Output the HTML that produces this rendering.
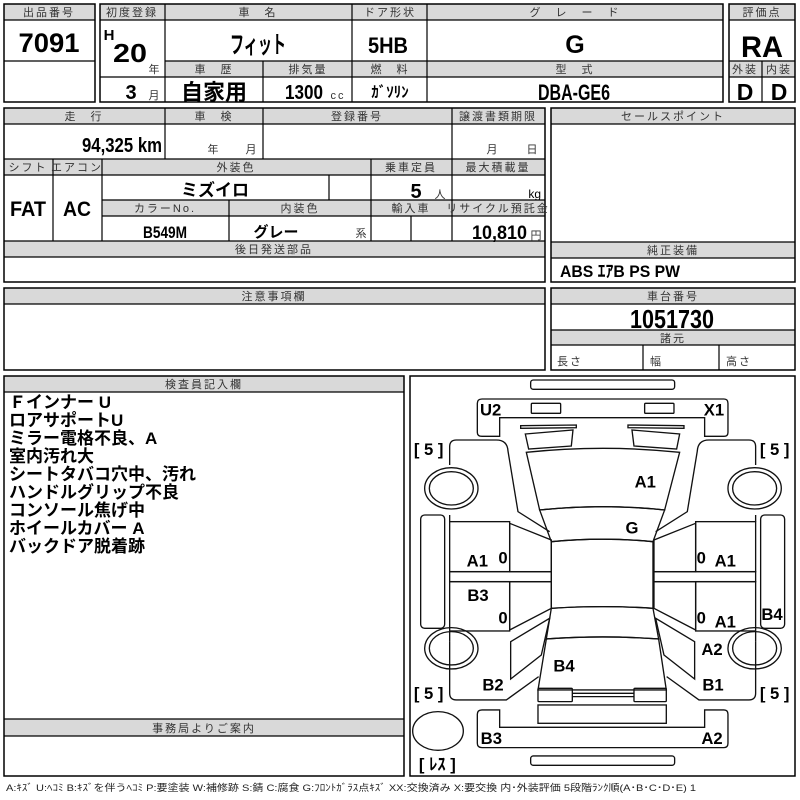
<!DOCTYPE html>
<html><head><meta charset="utf-8"><style>
html,body{margin:0;padding:0;background:#fff;width:800px;height:800px;overflow:hidden}
svg{display:block}
text{font-family:"Liberation Sans","Noto Sans CJK JP",sans-serif}
.h{font-size:11px;fill:#333;letter-spacing:2px}
.v{font-weight:bold;fill:#000}
.hf{fill:#d9d9d9}
.b{fill:none;stroke:#000;stroke-width:1.5}
.l{stroke:#000;stroke-width:1.2}
.d{fill:none;stroke:#111;stroke-width:4}
.dl{font-weight:bold;font-size:50px;fill:#000}
.n{font-weight:bold;font-size:17px;fill:#000}
</style></head><body>
<svg width="800" height="800" viewBox="0 0 800 800" xmlns="http://www.w3.org/2000/svg">
<g text-anchor="middle">
<rect class="hf" x="4" y="4" width="91" height="16"/>
<rect class="hf" x="100" y="4" width="623" height="16"/>
<rect class="hf" x="165" y="61" width="558" height="16"/>
<rect class="hf" x="729" y="4" width="66" height="16"/>
<rect class="hf" x="729" y="61" width="66" height="16"/>
<rect class="hf" x="4" y="108" width="541" height="16"/>
<rect class="hf" x="4" y="159" width="541" height="16"/>
<rect class="hf" x="102" y="200" width="443" height="16"/>
<rect class="hf" x="4" y="241" width="541" height="16"/>
<rect class="hf" x="551" y="108" width="244" height="16"/>
<rect class="hf" x="551" y="242" width="244" height="16"/>
<rect class="hf" x="4" y="288" width="541" height="16"/>
<rect class="hf" x="551" y="288" width="244" height="16"/>
<rect class="hf" x="551" y="330" width="244" height="15"/>
<rect class="hf" x="4" y="376" width="400" height="16"/>
<rect class="hf" x="4" y="719" width="400" height="17"/>

<rect class="b" x="4" y="4" width="91" height="98"/>
<line class="l" x1="4" y1="20" x2="95" y2="20"/><line class="l" x1="4" y1="61" x2="95" y2="61"/>
<text class="h" x="49" y="16">出品番号</text>
<text class="v" x="49" y="52" font-size="27" textLength="61" lengthAdjust="spacingAndGlyphs">7091</text>

<rect class="b" x="100" y="4" width="623" height="98"/>
<line class="l" x1="100" y1="20" x2="723" y2="20"/>
<line class="l" x1="165" y1="61" x2="723" y2="61"/>
<line class="l" x1="100" y1="77" x2="723" y2="77"/>
<line class="l" x1="165" y1="4" x2="165" y2="102"/>
<line class="l" x1="352" y1="4" x2="352" y2="102"/>
<line class="l" x1="427" y1="4" x2="427" y2="102"/>
<line class="l" x1="263" y1="61" x2="263" y2="102"/>
<text class="h" x="132" y="16" letter-spacing="0">初度登録</text>
<text class="h" x="258" y="16">車　名</text>
<text class="h" x="390" y="16">ドア形状</text>
<text class="h" x="575" y="16">グ　レ　ー　ド</text>
<text class="v" x="109" y="40" font-size="15">H</text>
<text class="v" x="130" y="62" font-size="26" textLength="34" lengthAdjust="spacingAndGlyphs">20</text>
<text class="h" x="155" y="73">年</text>
<text class="v" x="131" y="99" font-size="20">3</text>
<text class="h" x="155" y="99">月</text>
<text class="v" x="258" y="53" font-size="24" textLength="56" lengthAdjust="spacingAndGlyphs">フィット</text>
<text class="v" x="388" y="53" font-size="22" textLength="40" lengthAdjust="spacingAndGlyphs">5HB</text>
<text class="v" x="575" y="53" font-size="25">G</text>
<text class="h" x="214" y="73">車　歴</text>
<text class="h" x="308" y="73">排気量</text>
<text class="h" x="390" y="73">燃　料</text>
<text class="h" x="575" y="73">型　式</text>
<text class="v" x="214" y="100" font-size="22">自家用</text>
<text class="v" x="304" y="99" font-size="20" textLength="38" lengthAdjust="spacingAndGlyphs">1300</text>
<text class="h" x="338" y="99" letter-spacing="0">cc</text>
<text class="v" x="390" y="97" font-size="15">ｶﾞｿﾘﾝ</text>
<text class="v" x="574" y="100" font-size="22" textLength="72" lengthAdjust="spacingAndGlyphs">DBA-GE6</text>

<rect class="b" x="729" y="4" width="66" height="98"/>
<line class="l" x1="729" y1="20" x2="795" y2="20"/>
<line class="l" x1="729" y1="61" x2="795" y2="61"/>
<line class="l" x1="729" y1="77" x2="795" y2="77"/>
<line class="l" x1="762" y1="61" x2="762" y2="102"/>
<text class="h" x="762" y="16" letter-spacing="0">評価点</text>
<text class="v" x="762" y="57" font-size="30" textLength="42" lengthAdjust="spacingAndGlyphs">RA</text>
<text class="h" x="745" y="73" letter-spacing="0">外装</text>
<text class="h" x="779" y="73" letter-spacing="0">内装</text>
<text class="v" x="745" y="100" font-size="23">D</text>
<text class="v" x="779" y="100" font-size="23">D</text>

<rect class="b" x="4" y="108" width="541" height="174"/>
<line class="l" x1="4" y1="124" x2="545" y2="124"/>
<line class="l" x1="4" y1="159" x2="545" y2="159"/>
<line class="l" x1="4" y1="175" x2="545" y2="175"/>
<line class="l" x1="102" y1="200" x2="545" y2="200"/>
<line class="l" x1="102" y1="216" x2="545" y2="216"/>
<line class="l" x1="4" y1="241" x2="545" y2="241"/>
<line class="l" x1="4" y1="257" x2="545" y2="257"/>
<line class="l" x1="165" y1="108" x2="165" y2="159"/>
<line class="l" x1="263" y1="108" x2="263" y2="159"/>
<line class="l" x1="452" y1="108" x2="452" y2="241"/>
<line class="l" x1="53" y1="159" x2="53" y2="241"/>
<line class="l" x1="102" y1="159" x2="102" y2="241"/>
<line class="l" x1="371" y1="159" x2="371" y2="241"/>
<line class="l" x1="329" y1="175" x2="329" y2="200"/>
<line class="l" x1="229" y1="200" x2="229" y2="241"/>
<line class="l" x1="411" y1="216" x2="411" y2="241"/>
<text class="h" x="84" y="120">走　行</text>
<text class="h" x="214" y="120">車　検</text>
<text class="h" x="357" y="120">登録番号</text>
<text class="h" x="498" y="120" letter-spacing="0">譲渡書類期限</text>
<text class="v" x="82" y="152" font-size="20" text-anchor="start" textLength="80" lengthAdjust="spacingAndGlyphs">94,325 km</text>
<text class="h" x="214" y="153">年</text>
<text class="h" x="252" y="153">月</text>
<text class="h" x="493" y="153">月</text>
<text class="h" x="533" y="153">日</text>
<text class="h" x="28" y="171" letter-spacing="0">シフト</text>
<text class="h" x="77" y="171" letter-spacing="0">エアコン</text>
<text class="h" x="236" y="171">外装色</text>
<text class="h" x="411" y="171" letter-spacing="0">乗車定員</text>
<text class="h" x="498" y="171" letter-spacing="0">最大積載量</text>
<text class="v" x="28" y="216" font-size="21" textLength="36" lengthAdjust="spacingAndGlyphs">FAT</text>
<text class="v" x="77" y="216" font-size="21" textLength="28" lengthAdjust="spacingAndGlyphs">AC</text>
<text class="v" x="215" y="196" font-size="17">ミズイロ</text>
<text class="v" x="416" y="198" font-size="20">5</text>
<text class="h" x="441" y="198">人</text>
<text x="541" y="198" font-size="12" text-anchor="end">kg</text>
<text class="h" x="165" y="212">カラーNo.</text>
<text class="h" x="300" y="212">内装色</text>
<text class="h" x="411" y="212">輸入車</text>
<text class="h" x="498" y="212" letter-spacing="0">リサイクル預託金</text>
<text class="v" x="165" y="238" font-size="17" textLength="44" lengthAdjust="spacingAndGlyphs">B549M</text>
<text class="v" x="276" y="237" font-size="15">グレー</text>
<text class="h" x="362" y="237">系</text>
<text class="v" x="527" y="239" font-size="19" text-anchor="end" textLength="55" lengthAdjust="spacingAndGlyphs">10,810</text>
<text class="h" x="537" y="239" letter-spacing="0">円</text>
<text class="h" x="274" y="253">後日発送部品</text>

<rect class="b" x="551" y="108" width="244" height="174"/>
<line class="l" x1="551" y1="124" x2="795" y2="124"/>
<line class="l" x1="551" y1="242" x2="795" y2="242"/>
<line class="l" x1="551" y1="258" x2="795" y2="258"/>
<text class="h" x="673" y="120" letter-spacing="6">セールスポイント</text>
<text class="h" x="673" y="254" letter-spacing="5">純正装備</text>
<text class="v" x="560" y="277" font-size="17" text-anchor="start" textLength="120" lengthAdjust="spacingAndGlyphs">ABS ｴｱB PS PW</text>

<rect class="b" x="4" y="288" width="541" height="82"/>
<line class="l" x1="4" y1="304" x2="545" y2="304"/>
<text class="h" x="274" y="300">注意事項欄</text>

<rect class="b" x="551" y="288" width="244" height="82"/>
<line class="l" x1="551" y1="304" x2="795" y2="304"/>
<line class="l" x1="551" y1="330" x2="795" y2="330"/>
<line class="l" x1="551" y1="345" x2="795" y2="345"/>
<line class="l" x1="643" y1="345" x2="643" y2="370"/>
<line class="l" x1="719" y1="345" x2="719" y2="370"/>
<text class="h" x="673" y="300" letter-spacing="5">車台番号</text>
<text class="v" x="672" y="328" font-size="26" textLength="84" lengthAdjust="spacingAndGlyphs">1051730</text>
<text class="h" x="673" y="342">諸元</text>
<text class="h" x="557" y="365" text-anchor="start">長さ</text>
<text class="h" x="650" y="365" text-anchor="start">幅</text>
<text class="h" x="726" y="365" text-anchor="start">高さ</text>

<rect class="b" x="4" y="376" width="400" height="400"/>
<line class="l" x1="4" y1="392" x2="404" y2="392"/>
<line class="l" x1="4" y1="719" x2="404" y2="719"/>
<line class="l" x1="4" y1="736" x2="404" y2="736"/>
<text class="h" x="204" y="388" letter-spacing="5">検査員記入欄</text>
<text class="h" x="204" y="732" letter-spacing="6">事務局よりご案内</text>
</g>
<text class="n" x="9" y="408">Ｆインナー U</text>
<text class="n" x="9" y="426">ロアサポートU</text>
<text class="n" x="9" y="444">ミラー電格不良、A</text>
<text class="n" x="9" y="462">室内汚れ大</text>
<text class="n" x="9" y="480">シートタバコ穴中、汚れ</text>
<text class="n" x="9" y="498">ハンドルグリップ不良</text>
<text class="n" x="9" y="516">コンソール焦げ中</text>
<text class="n" x="9" y="534">ホイールカバー A</text>
<text class="n" x="9" y="552">バックドア脱着跡</text>

<rect class="b" x="410" y="376" width="385" height="400"/>
<g transform="translate(408,375) scale(0.3333)" text-anchor="middle">
<rect class="d" x="368" y="15" width="432" height="28" rx="8"/>
<rect class="d" x="368" y="1143" width="432" height="28" rx="8"/>
<path class="d" d="M208,85 Q208,72 222,72 L948,72 Q960,72 960,85 L960,172 Q960,184 948,184 L890,184 L890,128 L275,128 L275,184 L222,184 Q208,184 208,172 Z"/>
<path class="d" d="M208,1018 Q208,1005 222,1005 L275,1005 L275,1057 L890,1057 L890,1005 L948,1005 Q960,1005 960,1018 L960,1105 Q960,1118 948,1118 L222,1118 Q208,1118 208,1105 Z"/>
<rect class="d" x="370" y="85" width="88" height="30" rx="3"/>
<rect class="d" x="710" y="85" width="88" height="30" rx="3"/>
<path class="d" d="M338,160 L338,152 L505,150 L505,158 Z M660,150 L828,152 L828,160 L660,158 Z"/>
<path class="d" d="M352,177 L495,165 L490,213 L362,222 Z M672,165 L815,177 L806,222 L678,213 Z"/>
<path class="d" d="M355,232 Q585,208 815,232 L770,405 Q585,385 395,405 Z"/>
<path class="d" d="M395,405 Q585,385 770,405 L735,500 Q585,485 430,500 Z"/>
<path class="d" d="M430,500 Q585,485 735,500 L735,700 Q585,690 430,700 Z"/>
<path class="d" d="M430,700 Q585,690 735,700 L752,792 Q585,780 415,792 Z"/>
<path class="d" d="M415,792 Q585,780 752,792 L775,945 L390,945 Z"/>
<rect class="d" x="390" y="940" width="103" height="40" rx="3"/>
<rect class="d" x="678" y="940" width="97" height="40" rx="3"/>
<path class="d" d="M493,955 L678,955 M493,965 L678,965"/>
<rect class="d" x="390" y="990" width="385" height="55"/>
<path class="d" d="M125,270 L125,215 Q125,195 145,195 L265,195 Q298,195 300,228 L330,410 L425,470"/>
<path class="d" d="M125,420 L125,440 M125,770 L125,800"/>
<rect class="d" x="125" y="440" width="180" height="150"/>
<path class="d" d="M305,445 L430,495 L430,590 L305,590 Z"/>
<rect class="d" x="125" y="590" width="305" height="30"/>
<rect class="d" x="125" y="620" width="180" height="148"/>
<path class="d" d="M305,620 L430,620 L430,700 L305,765 Z"/>
<path class="d" d="M308,800 L425,730 L400,840 L308,912 Z"/>
<path class="d" d="M125,800 L125,955 Q125,975 145,975 L295,975 L392,905"/>
<rect class="d" x="38" y="420" width="72" height="340" rx="12"/>
<ellipse class="d" cx="130" cy="340" rx="80" ry="62"/><ellipse class="d" cx="130" cy="340" rx="66" ry="50"/>
<ellipse class="d" cx="130" cy="820" rx="80" ry="62"/><ellipse class="d" cx="130" cy="820" rx="66" ry="50"/>
<path class="d" d="M1043,270 L1043,215 Q1043,195 1023,195 L903,195 Q870,195 868,228 L838,410 L743,470"/>
<path class="d" d="M1043,420 L1043,440 M1043,770 L1043,800"/>
<rect class="d" x="863" y="440" width="180" height="150"/>
<path class="d" d="M863,445 L738,495 L738,590 L863,590 Z"/>
<rect class="d" x="738" y="590" width="305" height="30"/>
<rect class="d" x="863" y="620" width="180" height="148"/>
<path class="d" d="M863,620 L738,620 L738,700 L863,765 Z"/>
<path class="d" d="M860,800 L743,730 L768,840 L860,912 Z"/>
<path class="d" d="M1043,800 L1043,955 Q1043,975 1023,975 L873,975 L776,905"/>
<rect class="d" x="1058" y="420" width="72" height="340" rx="12"/>
<ellipse class="d" cx="1040" cy="340" rx="80" ry="62"/><ellipse class="d" cx="1040" cy="340" rx="66" ry="50"/>
<ellipse class="d" cx="1040" cy="820" rx="80" ry="62"/><ellipse class="d" cx="1040" cy="820" rx="66" ry="50"/>
<ellipse class="d" cx="90" cy="1068" rx="76" ry="58"/>
<text class="dl" x="248" y="122">U2</text>
<text class="dl" x="918" y="122">X1</text>
<text class="dl" x="62" y="240">[ 5 ]</text>
<text class="dl" x="1100" y="240">[ 5 ]</text>
<text class="dl" x="62" y="972">[ 5 ]</text>
<text class="dl" x="1100" y="972">[ 5 ]</text>
<text class="dl" x="712" y="338">A1</text>
<text class="dl" x="672" y="475">G</text>
<text class="dl" x="208" y="575">A1</text>
<text class="dl" x="285" y="565" font-size="40" font-weight="normal">0</text>
<text class="dl" x="210" y="678">B3</text>
<text class="dl" x="285" y="745" font-size="40" font-weight="normal">0</text>
<text class="dl" x="880" y="565" font-size="40" font-weight="normal">0</text>
<text class="dl" x="952" y="575">A1</text>
<text class="dl" x="880" y="745" font-size="40" font-weight="normal">0</text>
<text class="dl" x="952" y="757">A1</text>
<text class="dl" x="1092" y="735">B4</text>
<text class="dl" x="912" y="840">A2</text>
<text class="dl" x="468" y="890">B4</text>
<text class="dl" x="255" y="947">B2</text>
<text class="dl" x="915" y="947">B1</text>
<text class="dl" x="250" y="1107">B3</text>
<text class="dl" x="912" y="1107">A2</text>
<text class="dl" x="88" y="1185" font-size="44">[ ﾚｽ ]</text>
</g>

<text x="6" y="791" font-size="9.5" fill="#222" textLength="690" lengthAdjust="spacingAndGlyphs">A:ｷｽﾞ U:ﾍｺﾐ B:ｷｽﾞを伴うﾍｺﾐ P:要塗装 W:補修跡 S:錆 C:腐食 G:ﾌﾛﾝﾄｶﾞﾗｽ点ｷｽﾞ XX:交換済み X:要交換 内･外装評価 5段階ﾗﾝｸ順(A･B･C･D･E) 1</text>
</svg>
</body></html>
